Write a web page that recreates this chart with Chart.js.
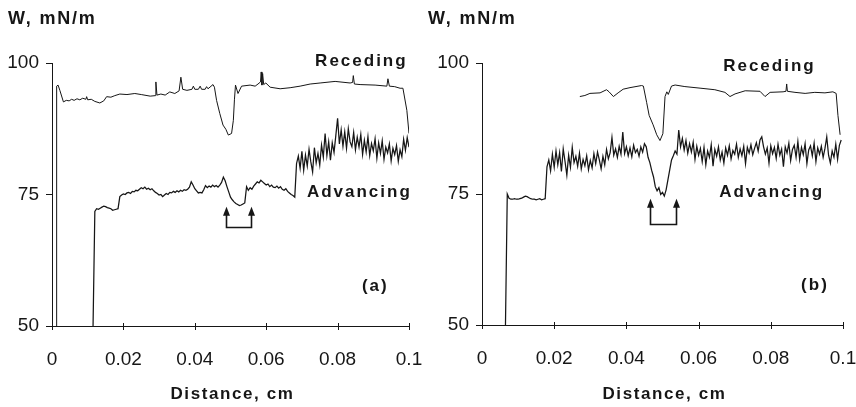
<!DOCTYPE html>
<html>
<head>
<meta charset="utf-8">
<script src="https://cdn.jsdelivr.net/npm/chart.js@4/dist/chart.umd.min.js"></script>
<style>
html, body { margin: 0; padding: 0; background: #fff; }
#wrap { position: relative; width: 856px; height: 407px; }
canvas { position: absolute; top: 0; }
#chartA { left: 0; }
#chartB { left: 428px; }
</style>
</head>
<body>
<div id="wrap">
  <canvas id="chartA" width="428" height="407"></canvas>
  <canvas id="chartB" width="428" height="407"></canvas>
</div>
<script>
// axis ticks
var xTicks = [0, 0.02, 0.04, 0.06, 0.08, 0.1];
var xTickLabels = ['0', '0.02', '0.04', '0.06', '0.08', '0.1'];
var yTicks = [50, 75, 100];
var yTitle = 'W, mN/m';
var xTitle = 'Distance, cm';

// (a) receding trace, read point by point
var recedA_x = [0.0013, 0.0013, 0.0017, 0.0022, 0.0032, 0.004, 0.0048, 0.0055, 0.0062, 0.007,
  0.0078, 0.0086, 0.0095, 0.0097, 0.0100, 0.011, 0.012, 0.0134, 0.0145, 0.0153,
  0.0165, 0.0176, 0.019, 0.021, 0.0232, 0.025, 0.0275, 0.029, 0.0291, 0.0294,
  0.0305, 0.0317, 0.033, 0.0344, 0.0356, 0.0361, 0.0366, 0.0378, 0.0392, 0.0396,
  0.04, 0.041, 0.0415, 0.0419, 0.0429, 0.0433, 0.0437, 0.0451, 0.0455, 0.0461,
  0.047, 0.0479, 0.0487, 0.0494, 0.0503, 0.0508, 0.0511, 0.0514, 0.0521, 0.0531,
  0.0555, 0.0569, 0.0577, 0.0584, 0.0586, 0.0588, 0.0590, 0.0593, 0.0599, 0.0611,
  0.0639, 0.0667, 0.0695, 0.0723, 0.0751, 0.0793, 0.0835, 0.0842, 0.0844, 0.0847,
  0.0863, 0.0905, 0.0938, 0.0941, 0.0945, 0.096, 0.0975, 0.0983, 0.0994, 0.1];
var recedA_y = [50, 95.6, 95.8, 94.8, 92.6, 92.9, 92.8, 93.1, 92.9, 93.2,
  93.0, 93.3, 93.1, 93.6, 93.0, 93.1, 92.7, 92.4, 92.8, 93.6,
  93.5, 93.8, 94.1, 94.0, 94.2, 94.0, 93.7, 93.8, 96.4, 93.9,
  94.1, 93.9, 94.5, 94.2, 94.7, 97.3, 95.0, 94.8, 95.0, 95.6,
  95.0, 95.0, 95.6, 95.0, 95.0, 95.5, 95.1, 95.9, 95.4, 92.9,
  90.4, 88.2, 87.4, 86.3, 86.6, 89.1, 93.0, 95.8, 94.2, 95.6,
  95.8, 95.6, 96.0, 96.4, 98.3, 95.8, 98.0, 95.9, 96.2, 95.4,
  95.1, 95.3, 95.6, 96.0, 96.2, 96.5, 96.2, 96.3, 97.6, 96.0,
  95.9, 95.8, 95.6, 97.0, 95.6, 95.5, 95.2, 95.2, 91.0, 86.6];

// (a) advancing trace, sampled every 0.0005 cm from advA_start
var advA_start = 0.0115;
var advA_y = [
  50, 71.8, 72.3, 72.2, 72.4, 72.6, 72.8, 72.7, 72.5, 72.4,
  72.3, 72.0, 72.1, 72.2, 72.3, 74.6, 74.9, 75.1, 75.0, 75.3,
  75.4, 75.2, 75.6, 75.5, 75.8, 75.7, 76.0, 76.3, 76.1, 76.4,
  76.0, 76.2, 75.9, 76.1, 75.7, 75.4, 75.2, 74.9, 75.0, 74.6,
  74.9, 75.2, 75.0, 75.4, 75.3, 75.6, 75.4, 75.7, 75.5, 75.8,
  75.6, 75.9, 75.8, 76.0, 76.4, 77.4, 76.8, 76.1, 75.7, 75.3,
  75.4, 75.3, 75.9, 76.7, 76.3, 76.6, 76.4, 76.8, 76.5, 76.7,
  76.4, 76.8, 77.3, 78.3, 77.6, 76.5, 75.5, 74.5, 74.0, 73.6,
  73.3, 73.1, 72.9, 73.0, 73.2, 73.4, 76.5, 75.8, 76.3, 76.0,
  76.6, 77.0, 77.4, 77.2, 77.7, 77.4, 77.1, 76.8, 77.0, 76.5,
  76.8, 76.4, 76.3, 76.6, 76.2, 76.5, 76.0, 75.8, 76.1, 75.6,
  75.3, 75.0, 74.8, 74.5, 80.9, 82.3, 80.0, 83.2, 79.6, 82.5,
  80.4, 83.6, 81.2, 79.3, 83.9, 81.0, 82.8, 80.6, 84.4, 82.1,
  86.6, 82.4, 85.0, 81.5, 84.8, 83.0, 86.2, 89.5, 84.6, 87.3,
  84.2, 86.9, 83.8, 87.5, 85.0, 84.1, 86.8, 83.5, 85.9, 84.0,
  86.4, 82.6, 85.3, 83.1, 86.0, 82.4, 84.7, 83.3, 85.6, 81.9,
  84.8, 82.8, 85.2, 81.7, 84.0, 82.9, 84.6, 81.4, 83.8, 82.6,
  84.3, 81.3, 83.5, 82.2, 85.5, 83.4, 85.8, 84.0];

// (b) receding trace
var recedB_x = [0.0271, 0.0285, 0.0299, 0.0327, 0.0345, 0.0352, 0.0364, 0.0377, 0.0391, 0.041,
  0.0442, 0.0447, 0.0456, 0.0463, 0.0474, 0.0484, 0.0493, 0.0501, 0.0507, 0.0512,
  0.0516, 0.0525, 0.0535, 0.0562, 0.0604, 0.0645, 0.0673, 0.0687, 0.0701, 0.0729,
  0.077, 0.0784, 0.0798, 0.0834, 0.0842, 0.0844, 0.0846, 0.0867, 0.0895, 0.0922,
  0.095, 0.0972, 0.0981, 0.0986, 0.0992];
var recedB_y = [93.6, 93.8, 94.2, 94.3, 94.9, 94.5, 93.6, 94.3, 95.0, 95.3,
  95.7, 95.6, 92.5, 90.0, 88.2, 86.3, 85.2, 86.5, 93.6, 94.5,
  94.0, 95.6, 95.8, 95.5, 95.2, 94.9, 94.4, 93.6, 94.1, 94.7,
  94.6, 93.6, 94.4, 94.5, 94.6, 96.0, 94.6, 94.4, 94.2, 94.4,
  94.3, 94.5, 94.2, 90.0, 86.3];

// (b) advancing trace, sampled every 0.0005 cm from advB_start
var advB_start = 0.0065;
var advB_y = [
  50, 75.0, 74.2, 74.0, 74.0, 74.1, 74.0, 74.0, 74.1, 74.2,
  74.4, 74.6, 74.5, 74.3, 74.1, 74.0, 74.0, 73.9, 74.0, 74.1,
  73.9, 74.0, 74.1, 80.2, 81.5, 79.4, 82.6, 80.1, 83.2, 80.6,
  82.9, 79.3, 83.6, 81.2, 78.6, 82.4, 80.1, 83.9, 81.0, 82.2,
  80.3, 82.8, 79.8, 81.6, 80.4, 82.3, 79.6, 81.4, 80.0, 82.7,
  80.8, 83.0, 81.5, 79.8, 82.2, 80.6, 83.5, 81.7, 82.9, 85.8,
  82.4, 83.6, 82.0, 84.1, 82.6, 86.8, 82.7, 84.0, 82.3, 83.8,
  82.1, 84.3, 82.9, 83.5, 82.2, 84.0, 83.0, 84.6, 84.0, 82.0,
  81.0, 79.5, 78.3, 76.4, 75.6, 76.2, 74.9, 75.3, 74.6, 75.8,
  77.7, 79.6, 81.5, 82.3, 83.2, 82.6, 87.2, 84.0, 85.6, 83.4,
  85.2, 82.8, 84.6, 83.0, 84.9, 81.6, 84.1, 82.4, 83.7, 81.2,
  83.9, 80.6, 83.2, 82.0, 84.4, 80.3, 83.5, 82.2, 84.0, 81.5,
  83.0, 80.9, 83.8, 82.4, 84.2, 81.7, 83.3, 82.6, 84.5, 82.0,
  83.6, 82.3, 84.1, 80.8, 83.9, 82.8, 84.4, 82.5, 83.7, 84.8,
  83.2, 85.3, 85.9, 84.0, 82.6, 83.8, 80.9, 84.2, 82.7, 83.9,
  81.8, 84.5, 82.4, 83.6, 80.2, 84.0, 82.8, 84.7, 81.4, 83.5,
  84.3, 82.0, 85.0, 81.6, 83.9, 82.5, 84.6, 80.8, 83.4, 84.2,
  82.3, 84.7, 81.2, 83.8, 82.6, 84.1, 82.0, 83.7, 85.9, 82.4,
  80.9, 83.2, 82.0, 84.5, 81.6, 84.3, 85.3];

var advStep = 0.0005;
var ink = '#161616';
var fontName = '"Liberation Sans", Arial, sans-serif';

function pairs(xs, ys) {
    return ys.map(function (y, i) { return { x: xs[i], y: y }; });
}
function sampled(start, ys) {
    return ys.map(function (y, i) { return { x: +(start + i * advStep).toFixed(4), y: y }; });
}

// titles, curve names and the bracket under the dip
var decor = {
    id: 'decor',
    afterDraw: function (chart, args, o) {
        var ctx = chart.ctx, x = chart.scales.x, y = chart.scales.y, a = chart.chartArea;
        ctx.save();
        ctx.fillStyle = ink;
        ctx.strokeStyle = ink;

        // x tick marks cross the axis line
        ctx.lineWidth = 1;
        xTicks.forEach(function (v) {
            var px = Math.round(x.getPixelForValue(v)) + 0.5;
            ctx.beginPath();
            ctx.moveTo(px, a.bottom - 3);
            ctx.lineTo(px, a.bottom + 4);
            ctx.stroke();
        });

        ctx.font = 'bold 18px ' + fontName;
        ctx.textBaseline = 'middle';
        ctx.letterSpacing = '1.8px';
        ctx.textAlign = 'left';
        ctx.fillText(yTitle, o.titleX, 19);
        ctx.font = 'bold 17px ' + fontName;
        ctx.letterSpacing = '1.6px';
        ctx.textAlign = 'center';
        ctx.fillText(xTitle, (a.left + a.right) / 2 + 2, 394);

        ctx.letterSpacing = '2px';
        ctx.textAlign = 'left';
        o.notes.forEach(function (n) {
            ctx.fillText(n.text, x.getPixelForValue(n.x), y.getPixelForValue(n.y));
        });

        // bracket with two arrows
        var b = o.bracket;
        var xl = Math.round(x.getPixelForValue(b.x0)) + 0.5;
        var xr = Math.round(x.getPixelForValue(b.x1)) + 0.5;
        var yt = y.getPixelForValue(b.top);
        var yb = Math.round(y.getPixelForValue(b.bottom)) + 0.5;
        ctx.lineWidth = 1.6;
        ctx.beginPath();
        ctx.moveTo(xl, yt + 6);
        ctx.lineTo(xl, yb);
        ctx.lineTo(xr, yb);
        ctx.lineTo(xr, yt + 6);
        ctx.stroke();
        [xl, xr].forEach(function (px) {
            ctx.beginPath();
            ctx.moveTo(px, yt - 1);
            ctx.lineTo(px - 3.5, yt + 8);
            ctx.lineTo(px + 3.5, yt + 8);
            ctx.closePath();
            ctx.fill();
        });
        ctx.restore();
    }
};

function makePanel(id, recPts, advPts, p) {
    return new Chart(document.getElementById(id), {
        type: 'scatter',
        data: {
            datasets: [
                { label: 'Receding', data: recPts, showLine: true, borderColor: ink, borderWidth: 1, pointRadius: 0, tension: 0 },
                { label: 'Advancing', data: advPts, showLine: true, borderColor: ink, borderWidth: 1.25, pointRadius: 0, tension: 0 }
            ]
        },
        options: {
            responsive: false,
            animation: false,
            events: [],
            layout: { padding: { left: 0, top: 63, right: p.padRight, bottom: 0 } },
            plugins: {
                legend: { display: false },
                tooltip: { enabled: false },
                decor: p
            },
            scales: {
                x: {
                    type: 'linear', min: 0, max: 0.1,
                    afterBuildTicks: function (s) { s.ticks = xTicks.map(function (v) { return { value: v }; }); },
                    afterFit: function (s) {
                        s.height = p.xHeight;
                        s.paddingLeft = 0;
                        s.paddingRight = 0;
                    },
                    // tick marks are drawn by the decor plugin; the invisible ones only push the labels down
                    grid: { display: true, drawOnChartArea: false, drawTicks: true, tickLength: 22, tickColor: 'rgba(0,0,0,0)' },
                    border: { display: true, color: ink, width: 1 },
                    ticks: {
                        padding: 0, color: ink, maxRotation: 0, autoSkip: false,
                        font: { family: fontName, size: 19 },
                        callback: function (v, i) { return xTickLabels[i]; }
                    }
                },
                y: {
                    type: 'linear', min: 50, max: 100,
                    afterBuildTicks: function (s) { s.ticks = yTicks.map(function (v) { return { value: v }; }); },
                    afterFit: function (s) { s.width = p.yWidth; },
                    grid: { display: true, drawOnChartArea: false, drawTicks: true, tickLength: 6, color: ink },
                    border: { display: true, color: ink, width: 1 },
                    ticks: { padding: 7, color: ink, font: { family: fontName, size: 19 } }
                }
            }
        },
        plugins: [decor]
    });
}

makePanel('chartA', pairs(recedA_x, recedA_y), sampled(advA_start, advA_y), {
    padRight: 19, xHeight: 81, yWidth: 52, titleX: 8,
    notes: [
        { text: 'Receding', x: 0.0737, y: 100.4 },
        { text: 'Advancing', x: 0.0714, y: 75.4 },
        { text: '(a)', x: 0.0868, y: 57.6 }
    ],
    bracket: { x0: 0.0487, x1: 0.0557, top: 72.5, bottom: 68.8 }
});

makePanel('chartB', pairs(recedB_x, recedB_y), sampled(advB_start, advB_y), {
    padRight: 13, xHeight: 82, yWidth: 54, titleX: 0,
    notes: [
        { text: 'Receding', x: 0.0668, y: 99.4 },
        { text: 'Advancing', x: 0.0657, y: 75.4 },
        { text: '(b)', x: 0.0884, y: 57.5 }
    ],
    bracket: { x0: 0.0465, x1: 0.0537, top: 73.9, bottom: 69.3 }
});
</script>
</body>
</html>
